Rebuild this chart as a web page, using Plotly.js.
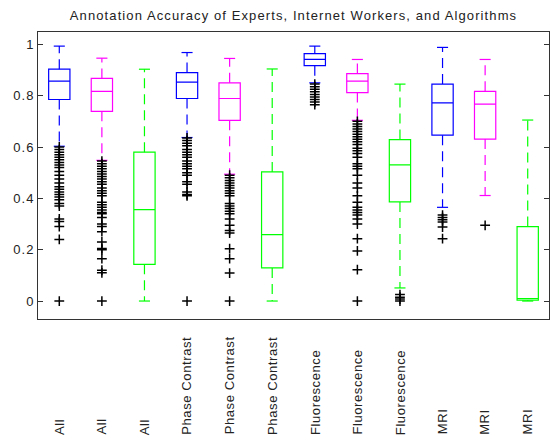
<!DOCTYPE html>
<html>
<head>
<meta charset="utf-8">
<script src="https://cdn.plot.ly/plotly-3.0.1.min.js"></script>
<style>
html,body{margin:0;padding:0;background:#fff;}
#chart{width:550px;height:440px;}
.gtitle{letter-spacing:1.1px;}
.ytick text{letter-spacing:1px;}
.annotation-text{letter-spacing:0.6px;}
</style>
</head>
<body>
<div id="chart"></div>
<script>
// Category labels for each of the 12 boxes
const labels = ['All','All','All','Phase Contrast','Phase Contrast','Phase Contrast',
  'Fluorescence','Fluorescence','Fluorescence','MRI','MRI','MRI'];
// Group of each box: Experts, Internet Workers, Algorithms
const groups = ['Experts','Internet Workers','Algorithms'];

// Box statistics
const q1  = [0.785, 0.739, 0.143, 0.789, 0.704, 0.129, 0.917, 0.812, 0.386, 0.646, 0.631, 0.003];
const med = [0.857, 0.817, 0.356, 0.853, 0.789, 0.259, 0.941, 0.857, 0.530, 0.772, 0.767, 0.009];
const q3  = [0.903, 0.867, 0.580, 0.890, 0.850, 0.503, 0.964, 0.886, 0.629, 0.845, 0.817, 0.290];
const lo  = [0.603, 0.548, 0.000, 0.637, 0.494, 0.000, 0.850, 0.704, 0.051, 0.365, 0.411, 0.000];
const hi  = [0.993, 0.946, 0.903, 0.968, 0.945, 0.904, 0.993, 0.941, 0.845, 0.988, 0.941, 0.705];

// Outliers per box
const out1  = [0.60,0.59,0.58,0.57,0.56,0.55,0.54,0.53,0.52,0.505,0.49,0.475,0.46,0.445,0.435,0.425,0.415,0.405,0.395,0.38,0.37,0.32,0.31,0.29,0.24,0];
const out2  = [0.545,0.535,0.525,0.515,0.505,0.495,0.485,0.475,0.465,0.455,0.44,0.43,0.42,0.41,0.385,0.375,0.365,0.355,0.345,0.34,0.325,0.30,0.29,0.27,0.23,0.205,0.2,0.165,0.12,0.11,0];
const out3  = [];
const out4  = [0.635,0.625,0.615,0.605,0.59,0.58,0.57,0.56,0.545,0.535,0.525,0.515,0.50,0.49,0.465,0.455,0.425,0.415,0.41,0];
const out5  = [0.49,0.48,0.47,0.46,0.45,0.44,0.43,0.42,0.41,0.38,0.37,0.36,0.35,0.34,0.32,0.295,0.275,0.265,0.204,0.165,0.109,0];
const out6  = [];
const out7  = [0.845,0.835,0.825,0.815,0.805,0.795,0.785,0.775,0.765];
const out8  = [0.70,0.69,0.68,0.67,0.66,0.65,0.64,0.63,0.62,0.61,0.595,0.585,0.575,0.56,0.535,0.525,0.515,0.49,0.46,0.44,0.41,0.385,0.365,0.355,0.345,0.335,0.32,0.30,0.243,0.195,0.122,0];
const out9  = [0.025,0.015,0.008,0];
const out10 = [0.335,0.325,0.317,0.308,0.288,0.243];
const out11 = [0.295];
const out12 = [];
const outliers = [out1,out2,out3,out4,out5,out6,out7,out8,out9,out10,out11,out12];

// Y tick labels
const yTickVals = [0, 0.2, 0.4, 0.6, 0.8, 1];
const yTickText = ['0','0.2','0.4','0.6','0.8','1'];

const colors = ['#0000ff', '#ff00ff', '#00ff00'];
const FONT = '"Liberation Sans", Arial, Helvetica, sans-serif';
const capHalf = 0.13;
const traces = [];

for (let g = 0; g < 3; g++) {
  const idx = [];
  for (let i = g; i < labels.length; i += 3) idx.push(i);
  traces.push({
    type: 'box', name: groups[g],
    x: idx.map(i => i + 1),
    q1: idx.map(i => q1[i]), median: idx.map(i => med[i]), q3: idx.map(i => q3[i]),
    lowerfence: idx.map(i => q1[i]), upperfence: idx.map(i => q3[i]),
    width: 0.5, whiskerwidth: 0, boxpoints: false,
    line: {color: colors[g], width: 1.2}, fillcolor: 'rgba(0,0,0,0)',
    hoverinfo: 'skip', showlegend: false
  });
  const wx = [], wy = [], cx = [], cy = [];
  idx.forEach(i => {
    wx.push(i + 1, i + 1, null, i + 1, i + 1, null);
    wy.push(q3[i], hi[i], null, q1[i], lo[i], null);
    cx.push(i + 1 - capHalf, i + 1 + capHalf, null, i + 1 - capHalf, i + 1 + capHalf, null);
    cy.push(hi[i], hi[i], null, lo[i], lo[i], null);
  });
  traces.push({type: 'scatter', mode: 'lines', x: wx, y: wy,
    line: {color: colors[g], width: 1.2, dash: '10px,6px'}, hoverinfo: 'skip', showlegend: false});
  traces.push({type: 'scatter', mode: 'lines', x: cx, y: cy,
    line: {color: colors[g], width: 1.2}, hoverinfo: 'skip', showlegend: false});
}

const ox = [], oy = [];
outliers.forEach((arr, i) => arr.forEach(v => { ox.push(i + 1); oy.push(v); }));
traces.push({type: 'scatter', mode: 'markers', x: ox, y: oy,
  marker: {symbol: 'cross-thin', size: 7, color: '#000', line: {color: '#000', width: 1.5}},
  hoverinfo: 'skip', showlegend: false});

const annotations = labels.map((t, i) => ({
  x: i + 1, xref: 'x', y: -0.4066, yref: 'paper',
  text: t, textangle: -90, xanchor: 'center', yanchor: 'bottom',
  showarrow: false, borderpad: 0,
  font: {family: FONT, size: 13, color: '#222'}
}));

const layout = {
  width: 550, height: 440,
  margin: {l: 38, r: 1, t: 32, b: 121},
  paper_bgcolor: '#fff', plot_bgcolor: '#fff',
  title: {text: 'Annotation Accuracy of Experts, Internet Workers, and Algorithms',
    font: {family: FONT, size: 13, color: '#222'},
    x: 0.5, xref: 'paper', y: 0.9648, yref: 'container', yanchor: 'middle'},
  boxmode: 'overlay',
  xaxis: {range: [0.5, 12.5], showline: true, mirror: true, linecolor: '#333', linewidth: 1,
    ticks: '', showticklabels: false, showgrid: false, zeroline: false, fixedrange: true},
  yaxis: {range: [-0.07, 1.048], tickvals: yTickVals, ticktext: yTickText,
    ticks: 'inside', ticklen: 5, tickcolor: '#333', showline: true, mirror: 'ticks',
    linecolor: '#333', linewidth: 1, showgrid: false, zeroline: false,
    tickfont: {family: FONT, size: 13, color: '#222'}, fixedrange: true},
  annotations: annotations,
  showlegend: false
};

Plotly.newPlot('chart', traces, layout, {displayModeBar: false, staticPlot: true});
</script>
</body>
</html>
